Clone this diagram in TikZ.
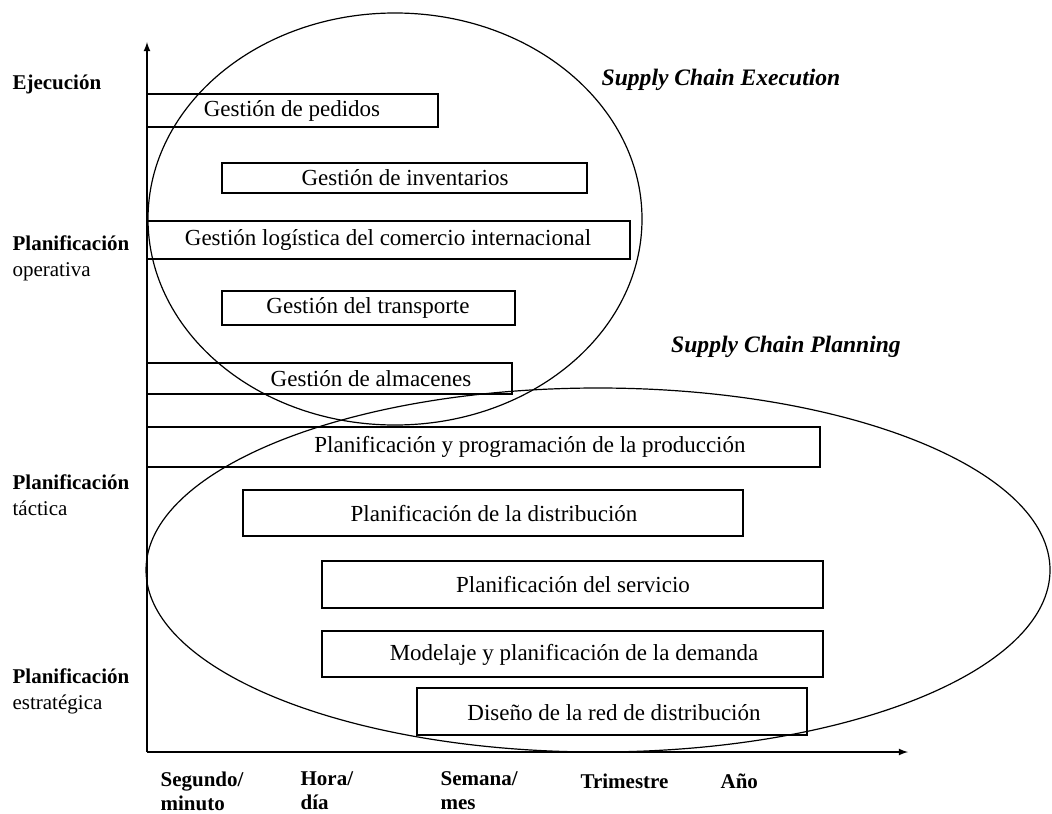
\documentclass[tikz,border=0pt]{standalone}
\usepackage{fontspec}
\setmainfont{Liberation Serif}
\tikzset{
	tarea/.style = {font = \fontsize{11.5}{13}\selectfont, inner sep = 0pt},
	nivel/.style = {font = \fontsize{10.5}{13}\selectfont\bfseries, align = left, anchor = west, inner sep = 0pt},
	escala/.style = {font = \fontsize{10.5}{12}\selectfont\bfseries, align = left, anchor = west, inner sep = 0pt},
	titulo/.style = {font = \fontsize{11.8}{13}\selectfont\bfseries\itshape, inner sep = 0pt}
}
\begin{document}
\begin{tikzpicture} [x = 0.5pt, y = -0.5pt, line width = 0.6pt]
	\useasboundingbox (0,0) rectangle (1052,813);
	% axes
	\coordinate (origen) at (147,752);
	\coordinate (ytope) at (147,42);
	\coordinate (xfin) at (908,752);
	\draw [-latex] (origen) -- (ytope);
	\draw [-latex] (origen) -- (xfin);
	% execution and planning
	\draw (395,219) ellipse [x radius = 123.5pt, y radius = 103pt];
	\draw (598,570) ellipse [x radius = 226pt, y radius = 91pt];
	\node (execution) [titulo] at (721,80) {Supply Chain Execution};
	\node (planning) [titulo] at (786,347) {Supply Chain Planning};
	% tasks
	\draw (147,94) rectangle (438,127);
	\node (pedidos) [tarea] at (292,111) {Gestión de pedidos};
	\draw (222,163) rectangle (587,193);
	\node (inventarios) [tarea] at (405,178) {Gestión de inventarios};
	\draw (147,221) rectangle (630,259);
	\node (comercio) [tarea] at (388,240) {Gestión logística del comercio internacional};
	\draw (222,291) rectangle (515,325);
	\node (transporte) [tarea] at (368,308) {Gestión del transporte};
	\draw (147,363) rectangle (512,394);
	\node (almacenes) [tarea] at (371,379) {Gestión de almacenes};
	\draw (147,427) rectangle (820,467);
	\node (produccion) [tarea] at (530,447) {Planificación y programación de la producción};
	\draw (243,490) rectangle (743,536);
	\node (distribucion) [tarea] at (494,514) {Planificación de la distribución};
	\draw (322,561) rectangle (823,608);
	\node (servicio) [tarea] at (573,585) {Planificación del servicio};
	\draw (322,631) rectangle (823,677);
	\node (demanda) [tarea] at (574,655) {Modelaje y planificación de la demanda};
	\draw (417,688) rectangle (807,735);
	\node (red) [tarea] at (614,713) {Diseño de la red de distribución};
	% levels
	\node (ejecucion) [nivel] at (12,84) {Ejecución};
	\node (operativa) [nivel] at (12,258) {Planificación\\\mdseries operativa};
	\node (tactica) [nivel] at (12,495) {Planificación\\\mdseries táctica};
	\node (estrategica) [nivel] at (12,691) {Planificación\\\mdseries estratégica};
	% time scale
	\node (segundo) [escala] at (160,791) {Segundo/\\minuto};
	\node (hora) [escala] at (300,791) {Hora/\\día};
	\node (semana) [escala] at (440,791) {Semana/\\mes};
	\node (trimestre) [escala] at (580,781) {Trimestre};
	\node (anio) [escala] at (720,781) {Año};
\end{tikzpicture}
\end{document}
